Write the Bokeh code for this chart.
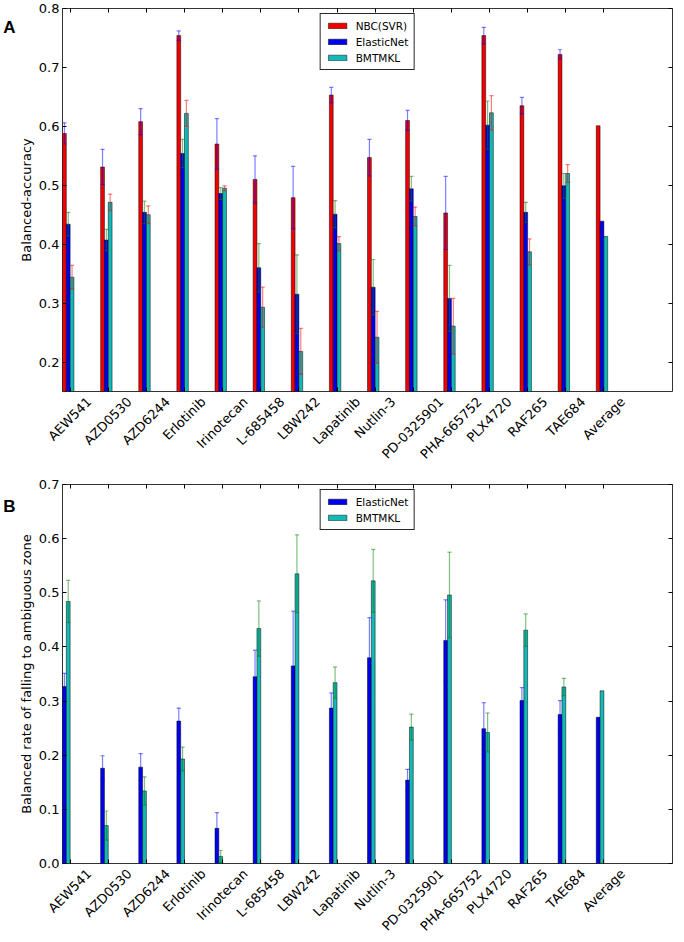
import math
from bokeh.plotting import figure
from bokeh.models import (ColumnDataSource, FixedTicker, PrintfTickFormatter, LinearAxis,
                          Range1d, Legend, LegendItem, CustomLabelingPolicy)
from bokeh.layouts import column
from bokeh.embed import file_html
from bokeh.resources import INLINE

# ---------------- data ----------------
drugs = ["AEW541", "AZD0530", "AZD6244", "Erlotinib", "Irinotecan", "L-685458", "LBW242",
         "Lapatinib", "Nutlin-3", "PD-0325901", "PHA-665752", "PLX4720", "RAF265", "TAE684",
         "Average"]

# Panel A: balanced accuracy
acc_nbc = [0.588, 0.531, 0.608, 0.754, 0.570, 0.510, 0.479, 0.653, 0.547, 0.610, 0.453,
           0.754, 0.635, 0.722, 0.601]
acc_nbc_err = [0.018, 0.030, 0.022, 0.008, 0.043, 0.040, 0.053, 0.013, 0.031, 0.017, 0.062,
               0.014, 0.014, 0.008, None]
acc_en = [0.434, 0.407, 0.454, 0.554, 0.486, 0.360, 0.315, 0.451, 0.327, 0.494, 0.308,
          0.602, 0.454, 0.499, 0.439]
acc_en_err = [0.020, 0.018, 0.019, 0.024, 0.010, 0.041, 0.067, 0.023, 0.047, 0.021, 0.056,
              0.041, 0.017, 0.021, None]
acc_bm = [0.344, 0.471, 0.450, 0.622, 0.495, 0.293, 0.218, 0.401, 0.242, 0.447, 0.261,
          0.623, 0.387, 0.520, 0.413]
acc_bm_err = [0.020, 0.014, 0.015, 0.022, 0.004, 0.034, 0.039, 0.012, 0.044, 0.016, 0.047,
              0.029, 0.022, 0.015, None]

# Panel B: balanced rate of falling to ambiguous zone
amb_en = [0.327, 0.176, 0.178, 0.263, 0.065, 0.345, 0.365, 0.287, 0.380, 0.154, 0.412,
          0.249, 0.301, 0.275, 0.270]
amb_en_err = [0.024, 0.023, 0.025, 0.024, 0.029, 0.049, 0.101, 0.028, 0.074, 0.020, 0.075,
              0.048, 0.024, 0.026, None]
amb_bm = [0.484, 0.070, 0.134, 0.193, 0.013, 0.434, 0.535, 0.334, 0.522, 0.252, 0.496,
          0.242, 0.431, 0.326, 0.319]
amb_bm_err = [0.039, 0.027, 0.026, 0.022, 0.011, 0.051, 0.072, 0.029, 0.058, 0.024, 0.079,
              0.036, 0.030, 0.016, None]

ticks_a = [0.2, 0.3, 0.4, 0.5, 0.6, 0.7, 0.8]
ticks_b = [0.0, 0.1, 0.2, 0.3, 0.4, 0.5, 0.6, 0.7]

# ---------------- style / layout ----------------
FONT = "DejaVu Sans"
LETTER_FONT = "Liberation Sans"
RED, BLUE, CYAN = "#f20000", "#0000ee", "#12b9b6"
ERR_B, ERR_G, ERR_R = "#0000ff", "#008000", "#ff0000"
BAR_W = 0.1
W = 676
BL, BR = 54, 3
X_MAX = 16
PX_PER_UNIT = (W - BL - BR) / X_MAX

# DejaVu Sans advance widths (em): used to centre each rotated label on its tick
CW = {"A": .684, "B": .686, "D": .770, "E": .632, "F": .575, "H": .752, "I": .295, "L": .557,
      "N": .748, "P": .603, "R": .695, "T": .611, "W": .989, "X": .685, "Z": .685,
      "a": .613, "b": .635, "c": .550, "e": .615, "g": .635, "i": .278, "l": .278, "n": .634,
      "o": .612, "p": .635, "r": .411, "t": .392, "u": .634, "v": .592, "-": .361}
for d in "0123456789":
    CW[d] = .636


def text_w(s, size):
    return sum(CW.get(c, 0.6) for c in s) * size


no_labels = CustomLabelingPolicy(code="return [];")
xr = Range1d(0, X_MAX)
xticks = [i + 0.2 for i in range(len(drugs))]
# Bokeh anchors a 45-degree label at its right end; move the anchor so the label is centred
label_pos = [t + text_w(n, 13) * math.sqrt(0.5) / 2 / PX_PER_UNIT for t, n in zip(xticks, drugs)]


def main_fig(height, yr, yticks, ylabel, b_top, b_bottom, letter, letter_y):
    p = figure(width=W, height=height, x_range=xr, y_range=Range1d(*yr),
               output_backend="svg", toolbar_location=None,
               min_border_left=BL, min_border_right=BR,
               min_border_top=b_top, min_border_bottom=b_bottom)
    p.xgrid.visible = False
    p.ygrid.visible = False
    p.outline_line_color = "black"
    p.outline_line_alpha = 0.8
    p.outline_line_width = 1
    xt = FixedTicker(ticks=xticks)
    yt = FixedTicker(ticks=yticks)
    for ax in p.xaxis:
        ax.ticker = xt
        ax.major_label_policy = no_labels
        ax.major_label_text_font_size = "1px"
        ax.major_label_standoff = 0
    for ax in p.yaxis:
        ax.ticker = yt
        ax.formatter = PrintfTickFormatter(format="%.1f")
        ax.major_label_text_font = FONT
        ax.major_label_text_font_size = "13px"
        ax.major_label_text_color = "black"
        ax.major_label_standoff = 3
        ax.axis_label = ylabel
        ax.axis_label_text_font = FONT
        ax.axis_label_text_font_size = "13px"
        ax.axis_label_text_font_style = "normal"
        ax.axis_label_text_color = "black"
        ax.axis_label_standoff = 2
    for ax in list(p.xaxis) + list(p.yaxis):
        ax.axis_line_color = None
        ax.major_tick_in = 4
        ax.major_tick_out = 0
        ax.minor_tick_in = 0
        ax.minor_tick_out = 0
        ax.major_tick_line_color = "black"
    for side, tk in (("right", yt), ("above", xt)):
        ax = LinearAxis(ticker=tk, major_label_policy=no_labels,
                        major_label_text_font_size="1px", major_label_standoff=0,
                        major_tick_in=4, major_tick_out=0, minor_tick_in=0, minor_tick_out=0,
                        axis_line_color=None, major_tick_line_color="black")
        p.add_layout(ax, side)
    # rotated category labels (second axis below, without tick marks)
    cax = LinearAxis(ticker=FixedTicker(ticks=label_pos),
                     major_label_overrides={pos: n for pos, n in zip(label_pos, drugs)},
                     major_label_orientation=math.pi / 4,
                     major_label_text_font=FONT, major_label_text_font_size="13px",
                     major_label_text_color="black", major_label_standoff=4,
                     major_tick_in=0, major_tick_out=0, minor_tick_in=0, minor_tick_out=0,
                     axis_line_color=None)
    p.add_layout(cax, "below")
    # panel letter, drawn as the only label of an outer left axis
    lax = LinearAxis(ticker=FixedTicker(ticks=[letter_y]),
                     major_label_overrides={letter_y: letter},
                     major_label_text_font=LETTER_FONT, major_label_text_font_style="bold",
                     major_label_text_font_size="17px", major_label_text_color="black",
                     major_label_standoff=0, major_tick_in=0, major_tick_out=0,
                     minor_tick_in=0, minor_tick_out=0, axis_line_color=None)
    p.add_layout(lax, "left")
    return p


def add_bars(p, offset, vals, color):
    src = ColumnDataSource(dict(x=[i + offset + BAR_W / 2 for i in range(len(vals))], top=vals))
    return p.vbar(x="x", top="top", bottom=0, width=BAR_W, source=src, fill_color=color,
                  line_color="black", line_width=0.7, line_alpha=0.7)


def add_err(p, offset, vals, errs, color):
    xs, lo, hi = [], [], []
    for i, (v, e) in enumerate(zip(vals, errs)):
        if e is None:
            continue
        xs.append(i + offset + BAR_W / 2)
        lo.append(v - e)
        hi.append(v + e)
    src = ColumnDataSource(dict(x=xs, lo=lo, hi=hi,
                                xl=[x - 0.055 for x in xs], xr=[x + 0.055 for x in xs]))
    kw = dict(source=src, line_color=color, line_alpha=0.5, line_width=1.2)
    p.segment(x0="x", y0="lo", x1="x", y1="hi", **kw)
    p.segment(x0="xl", y0="hi", x1="xr", y1="hi", **kw)
    p.segment(x0="xl", y0="lo", x1="xr", y1="lo", **kw)


def make_legend(items):
    return Legend(items=items, location="top", margin=5, padding=5, spacing=3,
                  glyph_width=23, glyph_height=7, label_standoff=7, label_height=13,
                  label_text_font=FONT, label_text_font_size="10.5px",
                  label_text_color="black",
                  border_line_color="black", border_line_width=1, border_line_alpha=0.85,
                  background_fill_color="white", background_fill_alpha=1)


# ---------------- panel A ----------------
pa = main_fig(470, (0.15, 0.8), ticks_a, "Balanced-accuracy", 8, 79, "A", 0.768)
r1 = add_bars(pa, 0.0, acc_nbc, RED)
r2 = add_bars(pa, 0.1, acc_en, BLUE)
r3 = add_bars(pa, 0.2, acc_bm, CYAN)
add_err(pa, 0.0, acc_nbc, acc_nbc_err, ERR_B)
add_err(pa, 0.1, acc_en, acc_en_err, ERR_G)
add_err(pa, 0.2, acc_bm, acc_bm_err, ERR_R)
pa.add_layout(make_legend([LegendItem(label="NBC(SVR)", renderers=[r1]),
                           LegendItem(label="ElasticNet", renderers=[r2]),
                           LegendItem(label="BMTMKL", renderers=[r3])]))

# ---------------- panel B ----------------
pb = main_fig(472, (0.0, 0.7), ticks_b, "Balanced rate of falling to ambiguous zone", 14, 0,
              "B", 0.660)
s1 = add_bars(pb, 0.0, amb_en, BLUE)
s2 = add_bars(pb, 0.1, amb_bm, CYAN)
add_err(pb, 0.0, amb_en, amb_en_err, ERR_B)
add_err(pb, 0.1, amb_bm, amb_bm_err, ERR_G)
pb.add_layout(make_legend([LegendItem(label="ElasticNet", renderers=[s1]),
                           LegendItem(label="BMTMKL", renderers=[s2])]))

layout = column(pa, pb, spacing=0)

open("out.html", "w").write(file_html(layout, INLINE))
